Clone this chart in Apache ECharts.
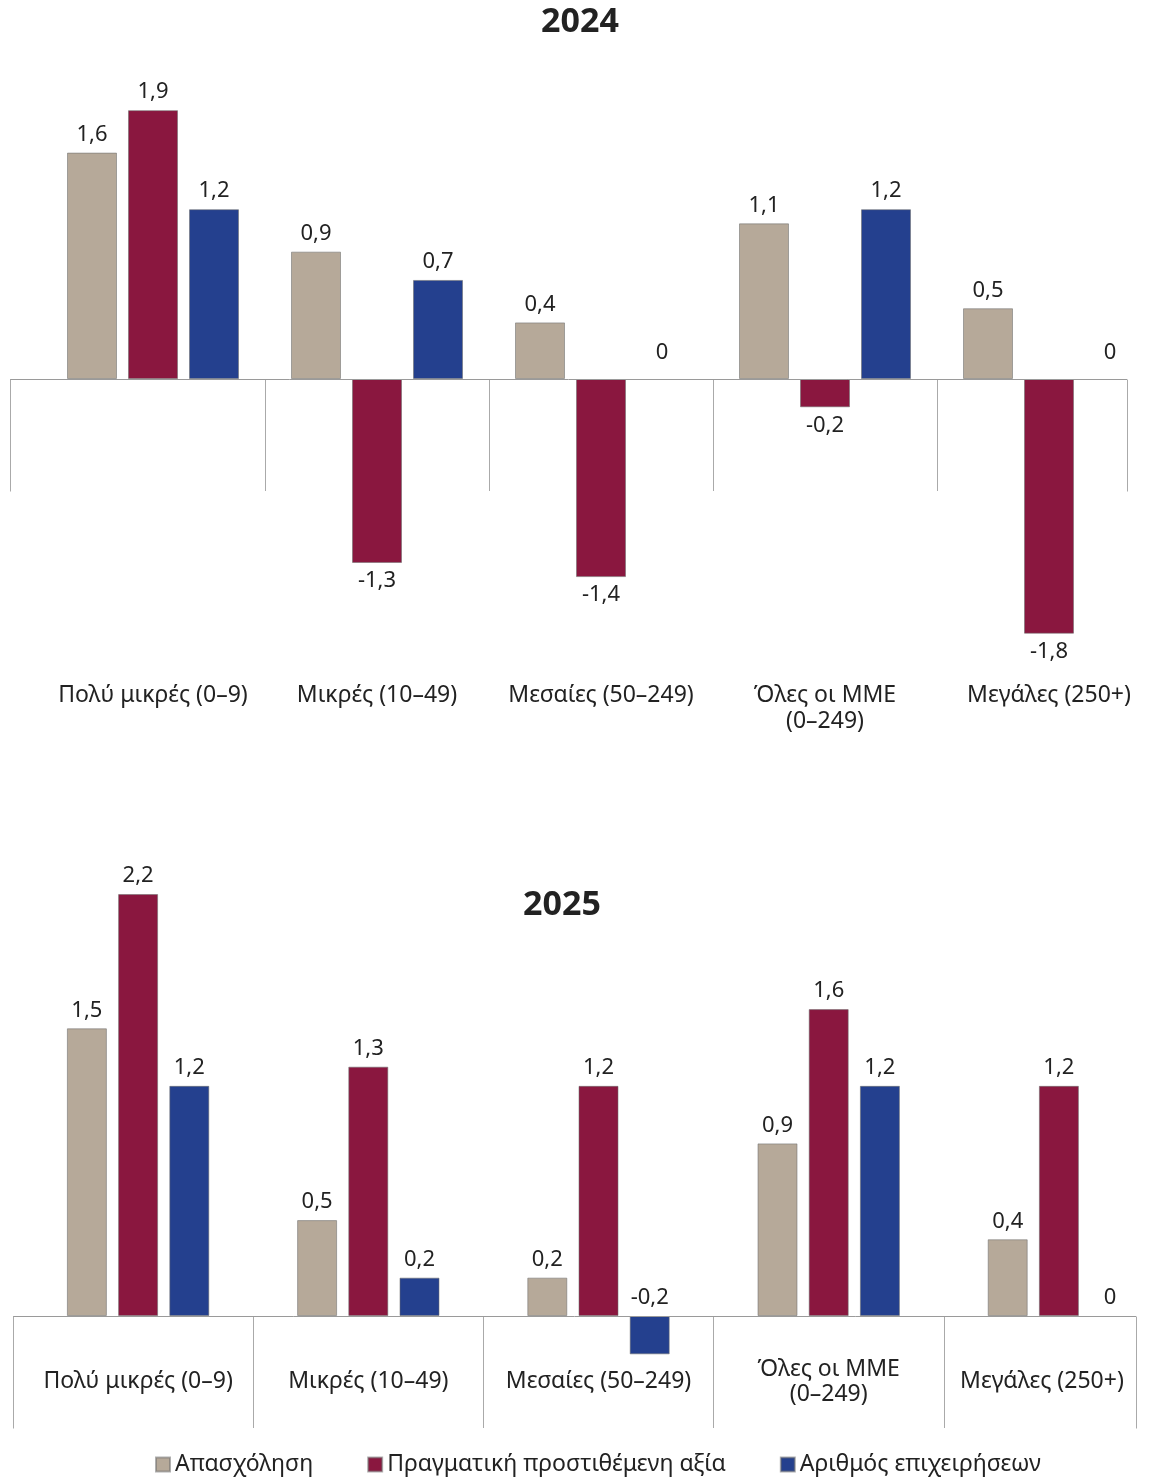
<!DOCTYPE html>
<html>
<head>
<meta charset="utf-8">
<script src="https://cdn.jsdelivr.net/npm/echarts@6/dist/echarts.min.js"></script>
<style>
  html, body { margin: 0; padding: 0; background: #fff; }
  #chart { width: 1153px; height: 1477px; }
</style>
</head>
<body>
<div id="chart"></div>
<script>
// ---- Data ----
const categories = ['Πολύ μικρές (0–9)', 'Μικρές (10–49)', 'Μεσαίες (50–249)', 'Όλες οι ΜΜΕ\n(0–249)', 'Μεγάλες (250+)'];
const seriesNames = ['Απασχόληση', 'Πραγματική προστιθέμενη αξία', 'Αριθμός επιχειρήσεων'];
const employment2024 = [1.6, 0.9, 0.4, 1.1, 0.5];
const valueAdded2024 = [1.9, -1.3, -1.4, -0.2, -1.8];
const firms2024 = [1.2, 0.7, 0, 1.2, 0];
const employment2025 = [1.5, 0.5, 0.2, 0.9, 0.4];
const valueAdded2025 = [2.2, 1.3, 1.2, 1.6, 1.2];
const firms2025 = [1.2, 0.2, -0.2, 1.2, 0];
const titles = ['2024', '2025'];

const colors = ['#b6a999', '#8a173f', '#24408e'];
const FONT = '"Noto Sans", sans-serif';
const TXT = '#222';
const LINE = '#9a9a9a';
const TICK = '#aaaaaa';
const TICK_LEN = 112;

function items(vals, signBased) {
  return vals.map(v => ({
    value: v,
    itemStyle: v === 0 ? { borderWidth: 0 } : undefined,
    label: {
      position: (signBased && v < 0) ? 'bottom' : 'top',
      distance: (signBased && v === 0) ? 15 : 7
    }
  }));
}
const fmt = p => String(p.value).replace('.', ',');

function barSeries(name, idx, vals, xi, yi, width, gap, signBased) {
  return {
    name: name,
    type: 'bar',
    xAxisIndex: xi,
    yAxisIndex: yi,
    barWidth: width,
    barGap: gap,
    clip: false,
    data: items(vals, signBased),
    itemStyle: { color: colors[idx], borderColor: 'rgba(110,110,110,0.55)', borderWidth: 1 },
    label: { show: true, distance: 7, formatter: fmt, fontFamily: FONT, fontSize: 22, color: TXT },
    emphasis: { disabled: true },
    animation: false
  };
}

const top2024 = [employment2024, valueAdded2024, firms2024];
const bot2025 = [employment2025, valueAdded2025, firms2025];

const series = [];
seriesNames.forEach((n, i) => series.push(barSeries(n, i, top2024[i], 0, 0, 50, '22%', true)));
seriesNames.forEach((n, i) => series.push(barSeries(n, i, bot2025[i], 2, 1, 40, '28%', false)));

// divider axis: ticks only at inner category boundaries; the frame line is added below
const lineAxis = (gi) => ({
  type: 'category', gridIndex: gi, data: categories, position: 'bottom',
  axisLine: { show: false, onZero: true },
  axisTick: { show: true, length: TICK_LEN, interval: (i) => i !== 0, lineStyle: { color: TICK, width: 1 } },
  axisLabel: { show: false }
});

const labelStyle = { fontFamily: FONT, fontSize: 23, lineHeight: 25, color: TXT };

const chart = echarts.init(document.getElementById('chart'), null, { renderer: 'canvas' });
chart.setOption({
  animation: false,
  backgroundColor: '#fff',
  title: [
    { text: titles[0], left: 580, top: 5, textAlign: 'center', padding: 0,
      textStyle: { fontFamily: FONT, fontSize: 34, fontWeight: 'bold', color: TXT } },
    { text: titles[1], left: 562, top: 888, textAlign: 'center', padding: 0,
      textStyle: { fontFamily: FONT, fontSize: 34, fontWeight: 'bold', color: TXT } }
  ],
  legend: {
    data: seriesNames,
    left: 150,
    top: 1448,
    icon: 'rect',
    itemWidth: 14,
    itemHeight: 14,
    itemGap: 54,
    textStyle: { fontFamily: FONT, fontSize: 23, color: TXT }
  },
  grid: [
    { left: 41, width: 1120, top: 96, height: 566, outerBoundsMode: 'none', containLabel: false },
    { left: 23, width: 1151, top: 836.5, height: 575.4, outerBoundsMode: 'none', containLabel: false }
  ],
  xAxis: [
    { type: 'category', gridIndex: 0, data: categories, position: 'bottom',
      axisLine: { show: false, onZero: false }, axisTick: { show: false },
      axisLabel: { margin: 20, fontFamily: FONT, fontSize: 23, lineHeight: 26, color: TXT, interval: 0 } },
    lineAxis(0),
    { type: 'category', gridIndex: 1, data: categories, position: 'bottom',
      axisLine: { show: false, onZero: false }, axisTick: { show: false },
      axisLabel: Object.assign({
        margin: -30, verticalAlign: 'middle', interval: 0,
        formatter: (v, i) => i === categories.length - 1 ? '{r|' + v + '}' : v,
        rich: { r: Object.assign({ padding: [0, 34, 0, 0] }, labelStyle) }
      }, labelStyle) },
    lineAxis(1)
  ],
  yAxis: [
    { type: 'value', gridIndex: 0, min: -2, max: 2, show: false, splitLine: { show: false } },
    { type: 'value', gridIndex: 1, min: -0.5, max: 2.5, show: false, splitLine: { show: false } }
  ],
  series: series
});

// Frame: zero line and outer dividers of each panel (zero position taken from the value axis)
const frames = [
  { yAxisIndex: 0, x1: 10, x2: 1127 },
  { yAxisIndex: 1, x1: 13, x2: 1136 }
];
const graphics = [];
frames.forEach(f => {
  const y0 = Math.round(chart.convertToPixel({ yAxisIndex: f.yAxisIndex }, 0)) + 0.5;
  graphics.push({ type: 'line', silent: true, z: 5,
    shape: { x1: f.x1, y1: y0, x2: f.x2, y2: y0 }, style: { stroke: LINE, lineWidth: 1 } });
  [f.x1, f.x2].forEach(x => graphics.push({ type: 'line', silent: true, z: 5,
    shape: { x1: x + 0.5, y1: y0, x2: x + 0.5, y2: y0 + TICK_LEN }, style: { stroke: TICK, lineWidth: 1 } }));
});
chart.setOption({ graphic: graphics });
</script>
</body>
</html>
